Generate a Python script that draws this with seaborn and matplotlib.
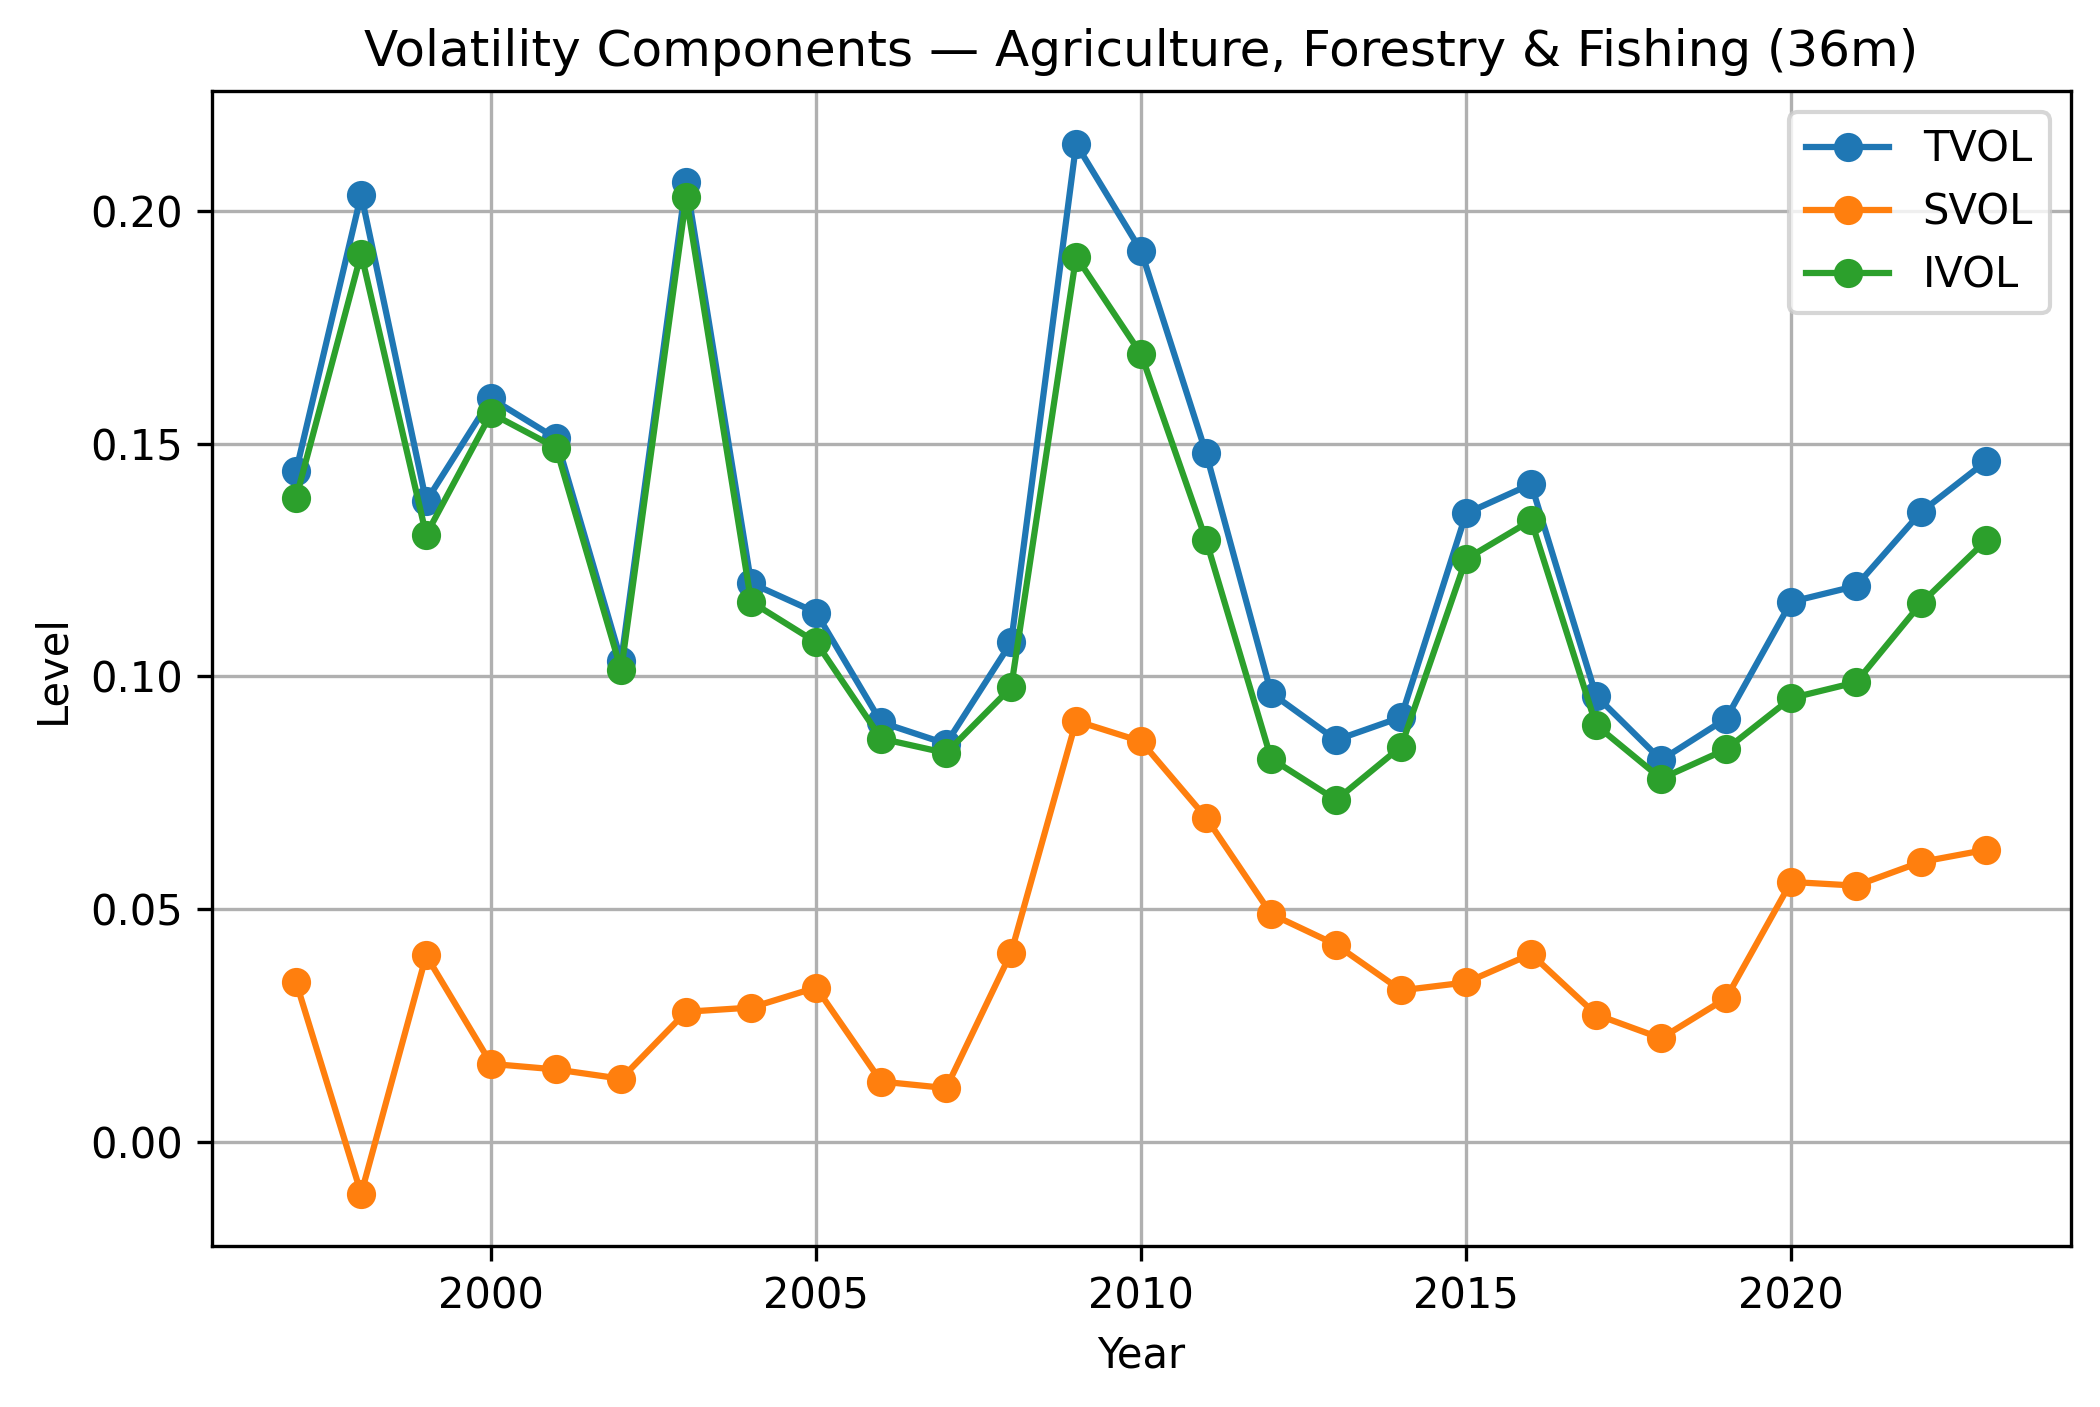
import matplotlib
matplotlib.use("Agg")
import matplotlib.pyplot as plt
import seaborn as sns
import pandas as pd

years = list(range(1997, 2024))
tvol = [0.1442, 0.2035, 0.1376, 0.1597, 0.1511, 0.1033, 0.2063, 0.1200, 0.1137, 0.0901,
        0.0855, 0.1073, 0.2144, 0.1914, 0.1479, 0.0964, 0.0863, 0.0912, 0.1350, 0.1413,
        0.0958, 0.0820, 0.0909, 0.1160, 0.1194, 0.1353, 0.1462]
svol = [0.0342, -0.0112, 0.0400, 0.0167, 0.0155, 0.0135, 0.0279, 0.0288, 0.0331, 0.0129,
        0.0115, 0.0406, 0.0904, 0.0860, 0.0696, 0.0489, 0.0423, 0.0325, 0.0342, 0.0403,
        0.0273, 0.0222, 0.0308, 0.0558, 0.0550, 0.0601, 0.0627]
ivol = [0.1384, 0.1908, 0.1304, 0.1565, 0.1491, 0.1013, 0.2029, 0.1160, 0.1073, 0.0866,
        0.0835, 0.0976, 0.1902, 0.1692, 0.1292, 0.0823, 0.0734, 0.0849, 0.1252, 0.1335,
        0.0895, 0.0780, 0.0843, 0.0953, 0.0987, 0.1157, 0.1292]
series = {"TVOL": tvol, "SVOL": svol, "IVOL": ivol}
colors = ["#1f77b4", "#ff7f0e", "#2ca02c"]

fig, ax = plt.subplots(figsize=(7, 4.69), dpi=300)
for (name, vals), c in zip(series.items(), colors):
    df = pd.DataFrame({"Year": years, "Level": vals})
    sns.lineplot(data=df, x="Year", y="Level", ax=ax, color=c, marker="o",
                 markersize=6, markeredgecolor=c, markeredgewidth=1,
                 linewidth=1.5, label=name)
ax.grid(True)
ax.set_title("Volatility Components — Agriculture, Forestry & Fishing (36m)")
ax.set_xlabel("Year")
ax.set_ylabel("Level")
ax.legend(loc="upper right")
fig.subplots_adjust(left=0.1008, right=0.986, top=0.935, bottom=0.1143)
fig.savefig("out.png", dpi=300)
